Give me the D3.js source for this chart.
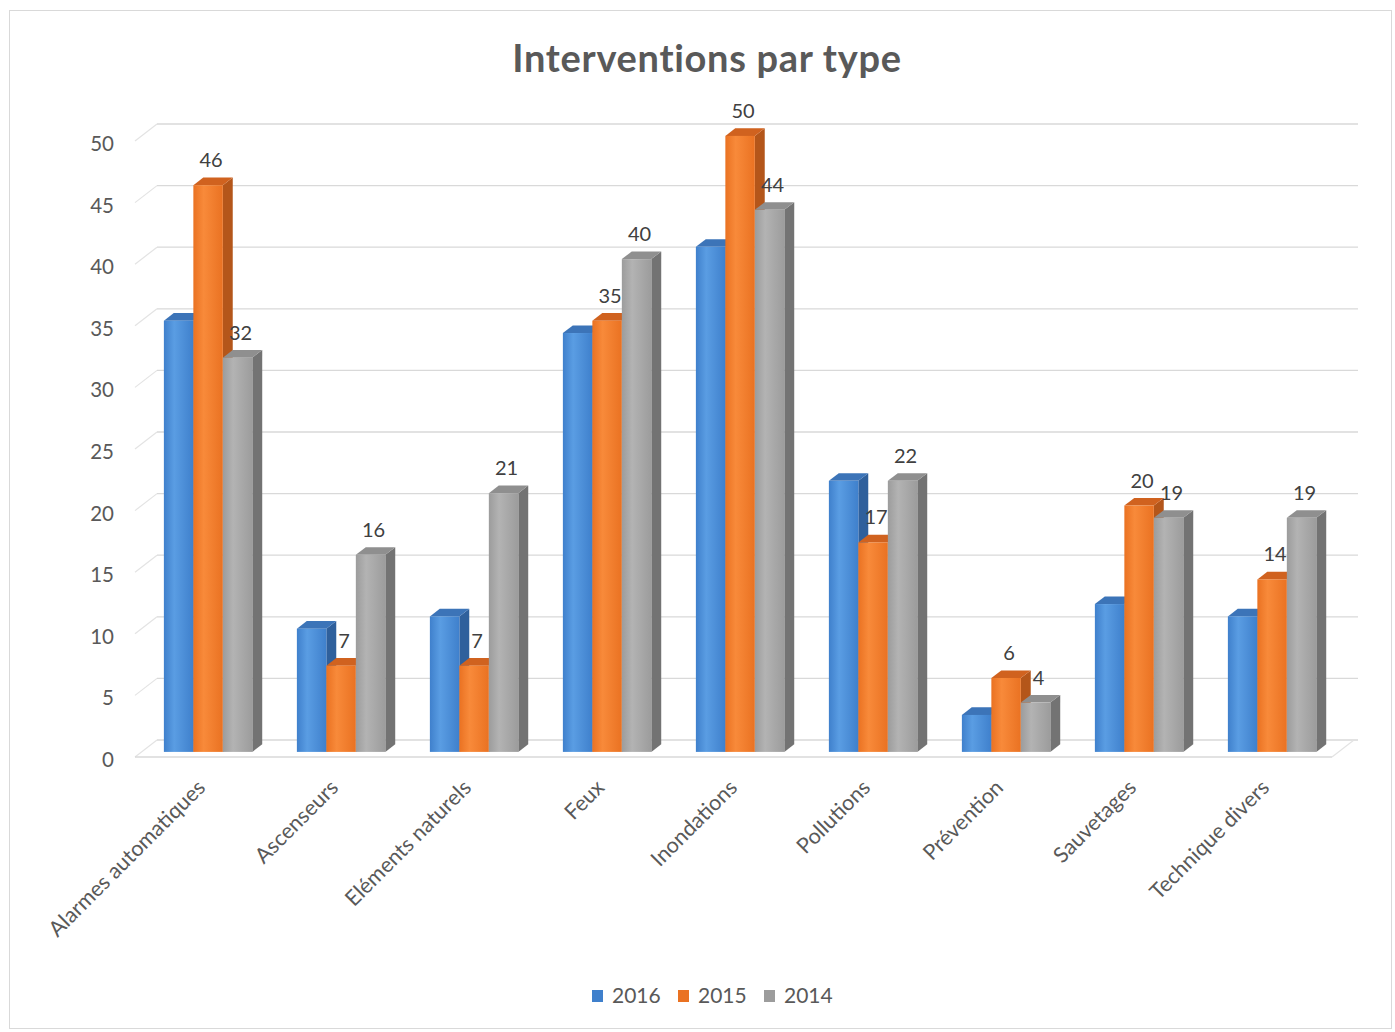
<!DOCTYPE html>
<html><head><meta charset="utf-8">
<script src="https://cdn.jsdelivr.net/npm/d3@7"></script>
<style>body{margin:0;background:#fff;}svg{display:block;font-family:Lato,"Open Sans",sans-serif;}</style>
</head><body>
<script>
const categories = ["Alarmes automatiques","Ascenseurs","Eléments naturels","Feux","Inondations","Pollutions","Prévention","Sauvetages","Technique divers"];
const seriesNames = ["2016","2015","2014"];
const values2016 = [35,10,11,34,41,22,3,12,11];
const values2015 = [46,7,7,35,50,17,6,20,14];
const values2014 = [32,16,21,40,44,22,4,19,19];
const yTicks = [0,5,10,15,20,25,30,35,40,45,50];
const showLabels = [false,true,true];

const W=1395,H=1032;
const svg=d3.select("body").append("svg").attr("width",W).attr("height",H);
svg.append("rect").attr("x",9.5).attr("y",10.5).attr("width",1382).attr("height",1018).attr("fill","#fff").attr("stroke","#d9d9d9");

const seriesVals=[values2016,values2015,values2014];
const faces=[
  {front:["#5a9de3","#3f80cc"],side:"#2f609c",top:"#3c74b8"},
  {front:["#f88a3a","#ea7222"],side:"#b4561a",top:"#d0621f"},
  {front:["#b3b3b3","#9c9c9c"],side:"#737373",top:"#8f8f8f"}
];
const defs=svg.append("defs");
faces.forEach((f,i)=>{
  const g=defs.append("linearGradient").attr("id","g"+i).attr("x1","0").attr("x2","1").attr("y1","0").attr("y2","0");
  g.append("stop").attr("offset","0").attr("stop-color",f.front[1]);
  g.append("stop").attr("offset","0.35").attr("stop-color",f.front[0]);
  g.append("stop").attr("offset","1").attr("stop-color",f.front[1]);
});

const x0=135,x1=1332;
const wall={dx:22,dy:-17};
const x=d3.scaleBand().domain(categories).range([x0,x1]).paddingInner(0.335).paddingOuter(0.1675);
const xs=d3.scaleBand().domain(seriesNames).range([0,x.bandwidth()]).padding(0);
const y=d3.scaleLinear().domain([0,50]).range([757,141]);

const grid=svg.append("g");
yTicks.forEach(t=>{
  grid.append("line").attr("x1",x0).attr("y1",y(t)).attr("x2",x0+wall.dx).attr("y2",y(t)+wall.dy).attr("stroke","#e3e3e3").attr("stroke-width",1.2);
  grid.append("line").attr("x1",x0+wall.dx).attr("y1",y(t)+wall.dy).attr("x2",1358).attr("y2",y(t)+wall.dy).attr("stroke","#d9d9d9").attr("stroke-width",1.3);
});
grid.append("line").attr("x1",x0).attr("y1",y(0)).attr("x2",x1).attr("y2",y(0)).attr("stroke","#d9d9d9").attr("stroke-width",1.3);
grid.append("line").attr("x1",x1).attr("y1",y(0)).attr("x2",x1+wall.dx).attr("y2",y(0)+wall.dy).attr("stroke","#e3e3e3").attr("stroke-width",1.2);

svg.append("g").selectAll("text").data(yTicks).join("text")
  .attr("x",114).attr("y",t=>y(t)+2).attr("text-anchor","end").attr("dominant-baseline","central")
  .attr("font-size",20.5).attr("fill","#595959").text(d=>d);

const off={dx:6.6,dy:-5.1}, dep={dx:9.9,dy:-7.6};
const bars=svg.append("g");
const labels=svg.append("g");
categories.forEach((c,ci)=>{
  seriesNames.forEach((s,si)=>{
    const v=seriesVals[si][ci];
    const bx=x(c)+xs(s)+off.dx, w=xs.bandwidth();
    const yt=y(v)+off.dy, yb=y(0)+off.dy;
    const f=faces[si];
    bars.append("polygon").attr("points",[[bx+w,yt],[bx+w+dep.dx,yt+dep.dy],[bx+w+dep.dx,yb+dep.dy],[bx+w,yb]].map(p=>p.join(",")).join(" ")).attr("fill",f.side);
    bars.append("polygon").attr("points",[[bx,yt],[bx+dep.dx,yt+dep.dy],[bx+w+dep.dx,yt+dep.dy],[bx+w,yt]].map(p=>p.join(",")).join(" ")).attr("fill",f.top);
    bars.append("rect").attr("x",bx).attr("y",yt).attr("width",w).attr("height",yb-yt).attr("fill","url(#g"+si+")");
    if(showLabels[si]){
      labels.append("text").attr("x",bx+w/2+3).attr("y",yt-18).attr("text-anchor","middle")
        .attr("font-size",20).attr("fill","#404040").text(v);
    }
  });
});

svg.append("g").selectAll("text").data(categories).join("text")
  .attr("transform",c=>`translate(${x(c)+x.bandwidth()/2+5},${789}) rotate(-45)`)
  .attr("text-anchor","end").attr("font-size",21.5).attr("fill","#595959").text(c=>c);

svg.append("text").attr("x",707).attr("y",72).attr("text-anchor","middle").attr("font-size",38).attr("letter-spacing",0.7).attr("font-weight","bold").attr("fill","#595959").text("Interventions par type");

const leg=svg.append("g");
seriesNames.forEach((s,i)=>{
  const lx=592+i*86;
  leg.append("rect").attr("x",lx).attr("y",990).attr("width",11).attr("height",12).attr("fill",faces[i].front[1]);
  leg.append("text").attr("x",lx+20).attr("y",1003).attr("font-size",21).attr("fill","#595959").text(s);
});
</script>
</body></html>
